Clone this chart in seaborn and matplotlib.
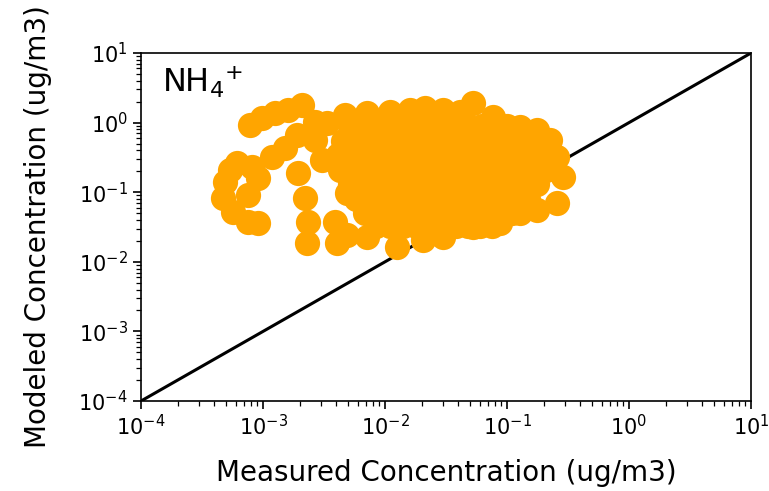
import matplotlib
matplotlib.use("Agg")
import matplotlib.pyplot as plt
import seaborn as sns
import pandas as pd

# Left-hand group of points (measured, modeled)
left_measured = [
    7.81e-4, 9.82e-4, 1.25e-3, 1.60e-3, 2.09e-3, 2.67e-3, 3.35e-3,
    1.19e-3, 1.51e-3, 1.90e-3, 1.94e-3, 3.05e-3, 2.67e-3,
    6.12e-4, 5.37e-4, 4.89e-4, 4.70e-4, 5.68e-4, 7.53e-4, 9.10e-4,
    9.10e-4, 7.53e-4, 8.13e-4,
    2.21e-3, 2.34e-3, 2.30e-3, 3.89e-3, 4.05e-3,
]
left_modeled = [
    0.924, 1.16, 1.37, 1.52, 1.79, 1.02, 0.987,
    0.321, 0.431, 0.664, 0.189, 0.290, 0.562,
    0.263, 0.208, 0.140, 0.0826, 0.0520, 0.0373, 0.0361,
    0.160, 0.0912, 0.230,
    0.0826, 0.0373, 0.0186, 0.0373, 0.0186,
]

# Outline of the main cloud
edge_measured = [
    4.70e-3, 7.11e-3, 1.10e-2, 1.60e-2, 2.13e-2, 2.98e-2, 4.12e-2, 5.26e-2,
    7.67e-2, 0.128, 0.176, 0.225, 0.257, 0.288, 0.257, 0.176, 0.128, 0.0877,
    0.0526, 0.0298, 0.0205, 0.0125, 7.11e-3, 4.89e-3, 4.89e-3, 4.28e-3,
]
edge_modeled = [
    1.29, 1.37, 1.42, 1.52, 1.62, 1.52, 1.42, 1.91,
    1.20, 0.865, 0.783, 0.562, 0.321, 0.165, 0.0700, 0.0555, 0.0502, 0.0361,
    0.0316, 0.0227, 0.0206, 0.0163, 0.0227, 0.0243, 0.0975, 0.208,
]

# Dense core of the cloud
core_measured = [
    0.0052, 0.0068, 0.0085, 0.011, 0.014, 0.018, 0.023, 0.029, 0.037, 0.048, 0.062, 0.08, 0.10,
    0.0045, 0.006, 0.0078, 0.0098, 0.013, 0.016, 0.021, 0.027, 0.034, 0.044, 0.057, 0.073, 0.095, 0.12, 0.155,
    0.0041, 0.0056, 0.0072, 0.0093, 0.012, 0.015, 0.02, 0.025, 0.032, 0.041, 0.053, 0.068, 0.088, 0.11, 0.145, 0.19,
    0.0048, 0.0063, 0.0081, 0.0105, 0.0135, 0.017, 0.022, 0.028, 0.036, 0.046, 0.059, 0.076, 0.098, 0.125, 0.16, 0.21,
    0.0052, 0.0068, 0.0088, 0.011, 0.0145, 0.019, 0.024, 0.031, 0.039, 0.05, 0.064, 0.083, 0.105, 0.135, 0.175,
    0.0058, 0.0075, 0.0097, 0.0125, 0.016, 0.021, 0.027, 0.034, 0.043, 0.055, 0.07, 0.09, 0.115, 0.15,
    0.0068, 0.0088, 0.0115, 0.015, 0.019, 0.025, 0.032, 0.041, 0.052, 0.066, 0.085, 0.11,
    0.0085, 0.011, 0.014, 0.018, 0.023, 0.03, 0.038, 0.048, 0.06, 0.075,
]
core_modeled = (
    [0.9] * 13 + [0.55] * 15 + [0.34] * 16 + [0.21] * 16
    + [0.13] * 15 + [0.08] * 14 + [0.05] * 12 + [0.033] * 10
)

axis_min, axis_max = 1e-4, 1e1
title_text = r"NH$_4$$^{+}$"
xlabel_text = "Measured Concentration (ug/m3)"
ylabel_text = "Modeled Concentration (ug/m3)"

df = pd.DataFrame({
    "measured": left_measured + edge_measured + core_measured,
    "modeled": left_modeled + edge_modeled + core_modeled,
})

sns.set_style("ticks")
plt.rcParams["font.family"] = ["DejaVu Sans"]
for key in ["text.color", "axes.labelcolor", "xtick.color", "ytick.color", "axes.edgecolor"]:
    plt.rcParams[key] = "black"

fig = plt.figure(figsize=(7.69, 4.91), dpi=100)
ax = fig.add_axes([0.1834, 0.1833, 0.7932, 0.7087])

sns.scatterplot(data=df, x="measured", y="modeled", ax=ax, color="#FFA500",
                s=330, linewidth=0, alpha=1.0, zorder=2)
ax.plot([axis_min, axis_max], [axis_min, axis_max], color="black", lw=2.2, zorder=1)

ax.set_xscale("log")
ax.set_yscale("log")
ax.set_xlim(axis_min, axis_max)
ax.set_ylim(axis_min, axis_max)

ax.set_xlabel(xlabel_text, fontsize=20, labelpad=14)
ax.set_ylabel(ylabel_text, fontsize=20, labelpad=19)
ax.tick_params(axis="both", which="major", labelsize=15, length=6, width=1.2, direction="out")
ax.tick_params(axis="both", which="minor", length=3.5, width=0.9, direction="out")
for sp in ax.spines.values():
    sp.set_linewidth(1.2)
    sp.set_color("black")

ax.text(0.035, 0.97, title_text, transform=ax.transAxes, fontsize=23,
        va="top", ha="left")

fig.savefig("out.png", dpi=100)
